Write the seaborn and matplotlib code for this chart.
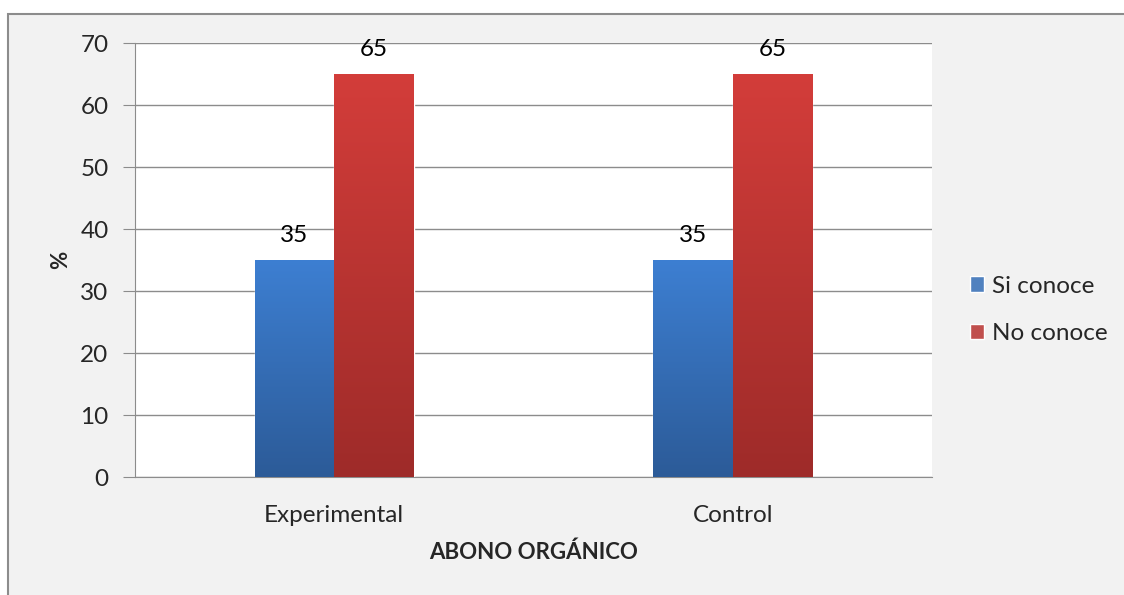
import numpy as np
import pandas as pd
import matplotlib.pyplot as plt
import matplotlib.colors as mcolors
from matplotlib.patches import Rectangle
import seaborn as sns

# Data
groups = ["Experimental", "Control"]
series = ["Si conoce", "No conoce"]
si_conoce = [35, 35]
no_conoce = [65, 65]

df = pd.DataFrame({
    "Grupo": groups * 2,
    "Respuesta": [series[0]] * 2 + [series[1]] * 2,
    "Valor": si_conoce + no_conoce,
})

# top / bottom colours of the gradients
grad = {
    "Si conoce": ("#3d7fd2", "#2c5b98"),
    "No conoce": ("#d33d3a", "#9e2b29"),
}

sns.set_style("white")
plt.rcParams["font.family"] = ["Lato", "DejaVu Sans"]

W, H = 1124, 595
fig = plt.figure(figsize=(W / 100, H / 100), dpi=100, facecolor="white")

# chart area background with border (only top/left visible, image is cropped)
fig.patches.append(Rectangle((8 / W, -0.05), 1.1, 1 - 14 / H + 0.05,
                             transform=fig.transFigure, facecolor="#f2f2f2",
                             edgecolor="#8c8c8c", linewidth=1.5, zorder=-10))

ax = fig.add_axes([135 / W, 1 - 477 / H, 797 / W, 434 / H])
ax.set_facecolor("white")

sns.barplot(data=df, x="Grupo", y="Valor", hue="Respuesta",
            palette=[grad[s][0] for s in series], width=0.4,
            ax=ax, legend=True, zorder=3)

ax.set_ylim(0, 70)
ax.set_yticks(range(0, 71, 10))
ax.yaxis.grid(True, color="#8c8c8c", linewidth=1, zorder=0)
ax.set_axisbelow(True)

# gradient fill over each bar
for container, name in zip(ax.containers, series):
    top, bot = grad[name]
    cmap = mcolors.LinearSegmentedColormap.from_list(name, [bot, top])
    for bar in container:
        x0, w, h = bar.get_x(), bar.get_width(), bar.get_height()
        img = ax.imshow(np.linspace(0, 1, 256).reshape(-1, 1), cmap=cmap,
                        origin="lower", aspect="auto",
                        extent=[x0, x0 + w, 0, h], zorder=4)
        img.set_clip_path(bar)
    ax.bar_label(container, labels=[str(int(v.get_height())) for v in container],
                 padding=10, fontsize=17.5, color="black")

ax.set_xlim(-0.5, 1.5)

for s in ["top", "right"]:
    ax.spines[s].set_visible(False)
for s in ["left", "bottom"]:
    ax.spines[s].set_color("#8c8c8c")
ax.tick_params(axis="y", left=True, length=9, color="#8c8c8c",
               labelsize=17.5, pad=10)
ax.tick_params(axis="x", bottom=False, labelsize=17.5, pad=17)

ax.set_xlabel("ABONO ORGÁNICO", fontsize=16, fontweight="bold", labelpad=11)
ax.set_ylabel("%", fontsize=16, fontweight="bold")
ax.yaxis.set_label_coords(-0.08, 0.5)

handles, labels = ax.get_legend_handles_labels()
ax.legend(handles, labels, loc="center left", bbox_to_anchor=(1.02, 0.385),
          frameon=False, fontsize=17.5, handlelength=0.6, handleheight=0.6,
          handletextpad=0.3, labelspacing=1.1, borderaxespad=0.5)

fig.savefig("out.png", dpi=100, facecolor=fig.get_facecolor())
